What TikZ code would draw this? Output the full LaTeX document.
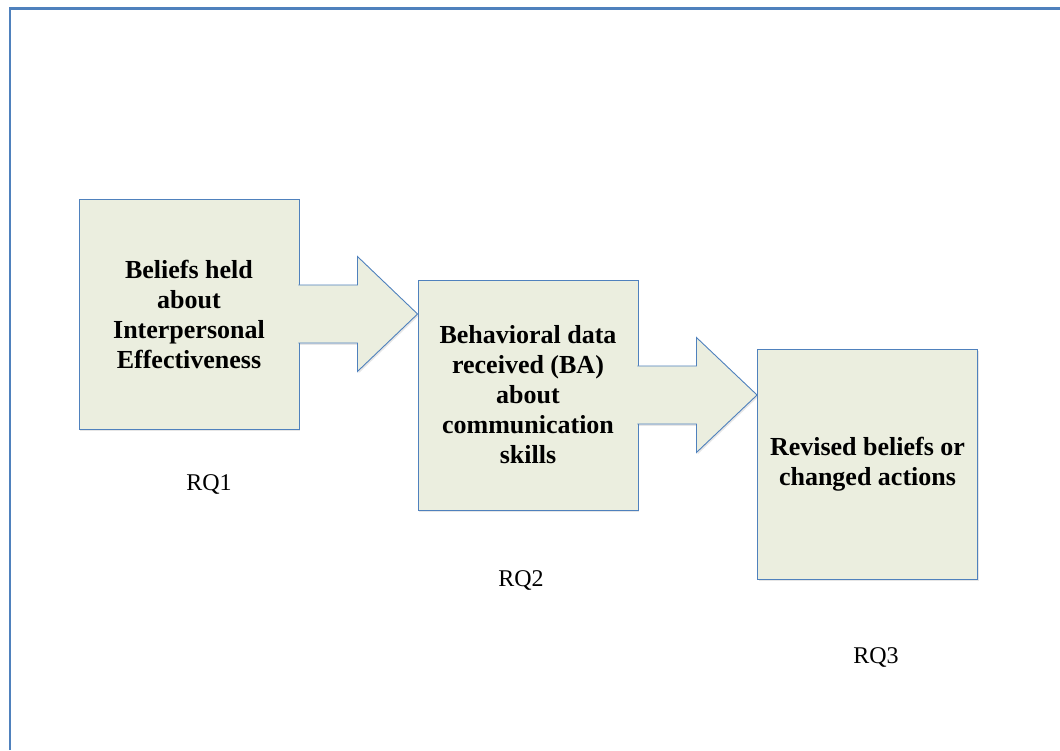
\documentclass[tikz,border=0pt]{standalone}
\usepackage{fontspec}
\setmainfont{Liberation Serif}
\usetikzlibrary{calc,shadows}
\definecolor{frameblue}{HTML}{4F81BD}
\definecolor{boxfill}{HTML}{EBEEDF}
\begin{document}
\begin{tikzpicture}[x=1pt,y=1pt,
  softshadow/.style={drop shadow={shadow xshift=1.2pt, shadow yshift=-1.8pt, opacity=0.2, fill=black!50}},
  stage/.style={draw=frameblue, line width=0.9pt, fill=boxfill,
    minimum width=220pt, minimum height=230pt, inner sep=0pt, align=center,
    font=\bfseries\fontsize{26}{30}\selectfont, softshadow},
  rq/.style={font=\fontsize{24}{28}\selectfont, inner sep=0pt},
  blockarrow/.style={draw=frameblue, line width=0.9pt, fill=boxfill, line join=miter, softshadow}]
\useasboundingbox (0,0) rectangle (1060,750);

% page frame
\draw[frameblue, line width=2.5pt] (10,0) -- (10,741.5) -- (1060,741.5);

% stages
\node[stage] (b1) at (189,436) {Beliefs held\\about\\Interpersonal\\Effectiveness};
\node[stage] (b2) at (528,355) {Behavioral data\\received (BA)\\about\\communication\\skills};
\node[stage] (b3) at (867.5,286) {Revised beliefs or\\changed actions};

% block arrows between stages (left end left open so it merges with the box)
\filldraw[blockarrow] ($(b1.east)+(-1,29)$) -- ++(59,0) -- ++(0,28.5)
  -- (b1.east -| b2.west) -- ($(b1.east)+(58,-57.5)$) -- ++(0,28.5)
  -- ($(b1.east)+(-1,-29)$);
\filldraw[blockarrow] ($(b2.east)+(-1,29)$) -- ++(59,0) -- ++(0,28.5)
  -- (b2.east -| b3.west) -- ($(b2.east)+(58,-57.5)$) -- ++(0,28.5)
  -- ($(b2.east)+(-1,-29)$);

% research question labels
\node[rq] (rq1) at (209,265) {RQ1};
\node[rq] (rq2) at (521,170) {RQ2};
\node[rq] (rq3) at (876,93) {RQ3};
\end{tikzpicture}
\end{document}
